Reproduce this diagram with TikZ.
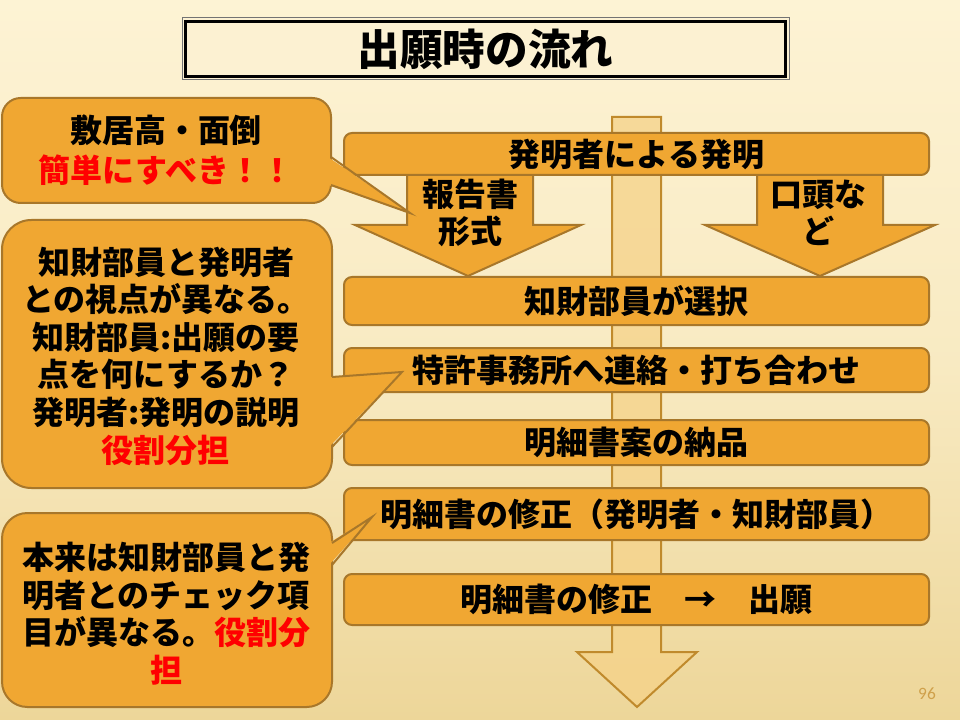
\documentclass[tikz,border=0pt]{standalone}
\usepackage{fontspec}
\setmainfont{Noto Sans CJK JP}
\newfontfamily\numfont{Carlito}
\definecolor{bgtop}{HTML}{FDF3D4}
\definecolor{bgbot}{HTML}{EDD699}
\definecolor{orangec}{HTML}{F0A732}
\definecolor{bordc}{HTML}{A8772A}
\definecolor{bigfill}{HTML}{F5D288}
\definecolor{bigbord}{HTML}{C08A2C}
\definecolor{numc}{HTML}{CFA04A}
\definecolor{titlefill}{HTML}{FCF1D2}
\begin{document}
\begin{tikzpicture}[x=0.75pt,y=-0.75pt,
  flowbox/.style={draw=bordc, fill=orangec, line width=1.5pt, rounded corners=6pt,
    minimum width=438.75pt, inner sep=0pt, font=\fontsize{24}{28}\selectfont\bfseries},
  blockarrow/.style={draw=bordc, fill=orangec, line width=1.5pt, line join=miter},
  callout/.style={draw=bordc, fill=orangec, line width=1.5pt},
  ctext/.style={align=center, inner sep=0pt, font=\fontsize{24}{28.2}\selectfont\bfseries},
  atext/.style={align=center, inner sep=0pt, font=\fontsize{24}{27.75}\selectfont\bfseries}]
% background
\shade[top color=bgtop, bottom color=bgbot, middle color=bgtop!70!bgbot] (0,0) rectangle (960,720);
\useasboundingbox (0,0) rectangle (960,720);
% title
\node[draw=black!55, line width=0.75pt, fill=titlefill, minimum width=455.25pt, minimum height=46.5pt, inner sep=0pt] (tframe) at (485.5,49) {};
\node[draw=black, line width=2.25pt, minimum width=450pt, minimum height=41.25pt, inner sep=0pt,
  font=\fontsize{32}{36}\selectfont\bfseries] (title) at (485.5,49) {出願時の流れ};
% central big arrow
\draw[draw=bigbord, fill=bigfill, fill opacity=0.75, line width=1.5pt, line join=miter]
  (612,117) -- (661,117) -- (661,652) -- (697,652) -- (637,707) -- (577,652) -- (612,652) -- cycle;
% side arrows
\draw[blockarrow] (407,168) -- (533,168) -- (533,225) -- (581,225) -- (468,276) -- (355,225) -- (407,225) -- cycle;
\draw[blockarrow] (757,168) -- (883,168) -- (883,225) -- (935,225) -- (820,276) -- (705,225) -- (757,225) -- cycle;
\node[atext] (al) at (470,213) {報告書\\形式};
\node[atext] (ar) at (818,213) {口頭な\\ど};
% flow boxes
\node[flowbox, minimum height=31.5pt] (b1) at (636.5,154) {発明者による発明};
\node[flowbox, minimum height=36pt] (b2) at (636.5,301) {知財部員が選択};
\node[flowbox, minimum height=33pt] (b3) at (636.5,370) {特許事務所へ連絡・打ち合わせ};
\node[flowbox, minimum height=33.75pt] (b4) at (636.5,442.5) {明細書案の納品};
\node[flowbox, minimum height=39pt] (b5) at (636.5,514) {明細書の修正（発明者・知財部員）};
\node[flowbox, minimum height=38.25pt] (b6) at (636.5,599.5) {明細書の修正　→　出願};
% callout 1
\draw[callout, rounded corners=14pt] (2,98) rectangle (331,203);
\fill[orangec] (328,157) -- (410,213) -- (328,185) -- cycle;
\draw[draw=bordc, line width=1.5pt, line join=miter] (331,157) -- (410,213) -- (331,185);
\node[ctext, font=\fontsize{24}{30}\selectfont\bfseries] (c1) at (166,150) {敷居高・面倒\\\textcolor{red}{簡単にすべき！！}};
% callout 2
\draw[callout, rounded corners=22pt] (2,220) rectangle (332,488);
\fill[orangec] (329,377) -- (402,372) -- (329,447) -- cycle;
\draw[draw=bordc, line width=1.5pt, line join=miter] (332,377) -- (402,372) -- (332,447);
\node[ctext] (c2) at (166,356) {知財部員と発明者\\との視点が異なる。\\知財部員:出願の要\\点を何にするか？\\発明者:発明の説明\\\textcolor{red}{役割分担}};
% callout 3
\draw[callout, rounded corners=19pt] (2,513) rectangle (332,707);
\fill[orangec] (329,543) -- (372,517) -- (329,565) -- cycle;
\draw[draw=bordc, line width=1.5pt, line join=miter] (332,543) -- (372,517) -- (332,565);
\node[ctext] (c3) at (166,613.5) {本来は知財部員と発\\明者とのチェック項\\目が異なる。\textcolor{red}{役割分}\\\textcolor{red}{担}};
% page number
\node[font=\numfont\fontsize{13}{15}\selectfont, text=numc, inner sep=0pt] (pg) at (927,694) {96};
\end{tikzpicture}
\end{document}
